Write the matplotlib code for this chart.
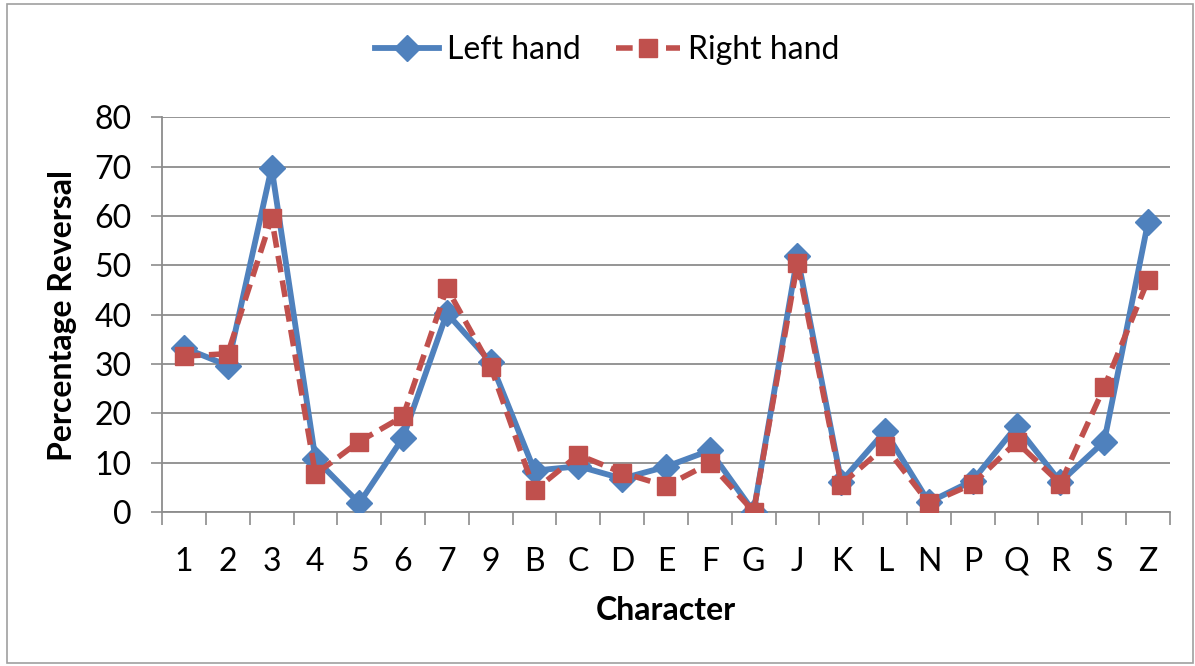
import numpy as np
import matplotlib.pyplot as plt
from matplotlib.patches import Rectangle

plt.rcParams['font.family'] = ['Lato', 'DejaVu Sans']

characters = ['1', '2', '3', '4', '5', '6', '7', '9', 'B', 'C', 'D', 'E', 'F',
              'G', 'J', 'K', 'L', 'N', 'P', 'Q', 'R', 'S', 'Z']
left_hand = [33.3, 29.7, 69.8, 10.8, 1.8, 15.1, 40.3, 30.4, 8.4, 9.3, 6.8,
             9.2, 12.5, 0.1, 51.8, 6.2, 16.4, 2.0, 6.4, 17.4, 6.1, 14.3, 58.7]
right_hand = [31.6, 32.1, 59.6, 7.7, 14.3, 19.4, 45.4, 29.4, 4.4, 11.6, 8.0,
              5.3, 9.9, 0.1, 50.4, 5.6, 13.3, 1.8, 5.7, 14.2, 5.8, 25.3, 47.0]

blue = '#4F81BD'
red = '#C0504D'
grid_col = '#8C8C8C'

fig = plt.figure(figsize=(11.95, 6.66), dpi=100)
ax = fig.add_axes([0.1356, 0.231, 0.8434, 0.593])

x = np.arange(len(characters))
ax.plot(x, left_hand, '-', color=blue, lw=4.2, marker='D', markersize=13,
        label='Left hand', zorder=3)
ax.plot(x, right_hand, '--', color=red, lw=4.0, marker='s', markersize=12.5,
        dashes=(3, 1.5), label='Right hand', zorder=4)

ax.set_xlim(-0.5, len(characters) - 0.5)
ax.set_ylim(0, 80)
ax.set_yticks(range(0, 81, 10))
ax.set_xticks(x)
ax.set_xticklabels(characters)
ax.set_xticks(np.arange(-0.5, len(characters), 1), minor=True)
ax.tick_params(axis='x', which='major', length=0, pad=25, labelsize=23)
ax.tick_params(axis='x', which='minor', length=9, color=grid_col, width=1.2)
ax.tick_params(axis='y', length=8, color=grid_col, width=1.2, labelsize=23, pad=14)

ax.grid(axis='y', color=grid_col, lw=1.3)
ax.set_axisbelow(True)
for s in ['top', 'right']:
    ax.spines[s].set_visible(False)
for s in ['left', 'bottom']:
    ax.spines[s].set_color(grid_col)
    ax.spines[s].set_linewidth(1.3)

fig.text(666 / 1195, 1 - 610 / 666, 'Character', fontsize=23, fontweight='bold',
         ha='center', va='center')
fig.text(63 / 1195, 1 - 315 / 666, 'Percentage Reversal', fontsize=23,
         fontweight='bold', rotation=90, ha='center', va='center')

fig.legend(loc='center', bbox_to_anchor=(0.508, 0.925), ncol=2, frameon=False,
           fontsize=23, handlelength=2.0, columnspacing=1.1, handletextpad=0.25)

fig.patches.append(Rectangle((0.006, 0.004), 0.992, 0.99, transform=fig.transFigure,
                             fill=False, edgecolor='#A0A0A0', lw=1.2))

fig.savefig('out.png', dpi=100)
